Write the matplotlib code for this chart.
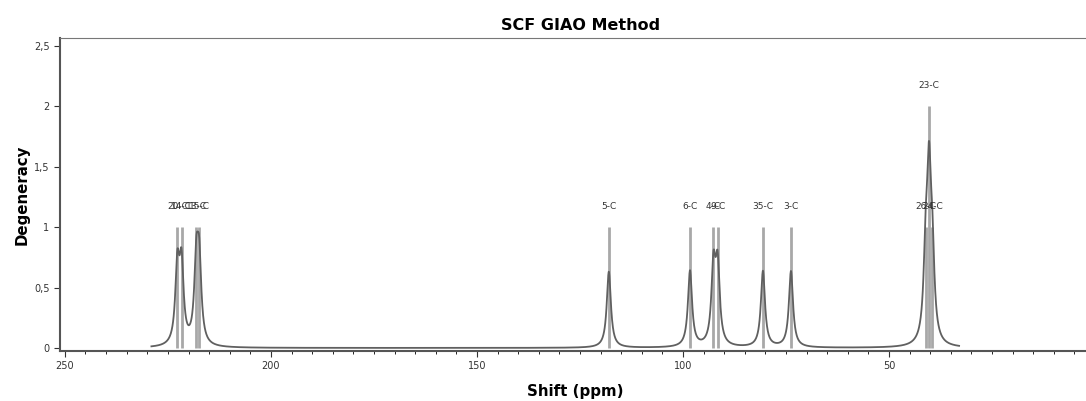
import numpy as np
import matplotlib.pyplot as plt
from matplotlib.ticker import MultipleLocator, FuncFormatter

# carbon shifts (ppm), degeneracy and labels
shifts = [222.7, 221.7, 218.1, 217.4, 118.0, 98.3, 92.6, 91.6, 80.6, 73.8,
          41.1, 40.3, 39.5]
degeneracy = [1, 1, 1, 1, 1, 1, 1, 1, 1, 1, 1, 2, 1]
labels = ["20-C", "14-C", "13-C", "15-C", "5-C", "6-C", "4-C", "9-C",
          "35-C", "3-C", "26-C", "23-C", "24-C"]

# lorentzian broadening used for the envelope
peak_height = 0.63
half_width = 0.6
curve_range = (229, 33)

x = np.linspace(curve_range[0], curve_range[1], 4000)
y = np.zeros_like(x)
for s, d in zip(shifts, degeneracy):
    y += d * peak_height * half_width**2 / ((x - s)**2 + half_width**2)

fig = plt.figure(figsize=(10.86, 4.01), dpi=100)
ax = fig.add_axes([0.0552, 0.1247, 0.9448, 0.7803])

ax.vlines(shifts, 0, degeneracy, color="#a8a8a8", linewidth=2.0, zorder=2)
ax.plot(x, y, color="#606060", linewidth=1.3, zorder=3)

for s, d, lab in zip(shifts, degeneracy, labels):
    ax.text(s, d + 0.17, lab, ha="center", va="center", fontsize=6.5,
            color="#333333")

ax.set_xlim(251.2, 2.2)
ax.set_ylim(-0.025, 2.565)
ax.xaxis.set_major_locator(MultipleLocator(50))
ax.xaxis.set_minor_locator(MultipleLocator(5))
ax.yaxis.set_major_locator(MultipleLocator(0.5))
comma = FuncFormatter(lambda v, p: ("%g" % v).replace(".", ","))
ax.yaxis.set_major_formatter(comma)
ax.xaxis.set_major_formatter(comma)
ax.tick_params(labelsize=7, colors="#333333", length=4)
ax.tick_params(which="minor", length=2.5)
ax.spines["right"].set_visible(False)
for sp in ["left", "bottom"]:
    ax.spines[sp].set_color("#555555")
    ax.spines[sp].set_linewidth(1.5)
ax.spines["top"].set_color("#777777")

ax.set_title("SCF GIAO Method", fontsize=11.5, fontweight="bold", pad=6,
             x=0.507)
ax.set_xlabel("Shift (ppm)", fontsize=10.8, fontweight="bold")
ax.xaxis.set_label_coords(0.502, -0.105)
ax.set_ylabel("Degeneracy", fontsize=10.8, fontweight="bold", labelpad=3)

plt.savefig("out.png", dpi=100)
